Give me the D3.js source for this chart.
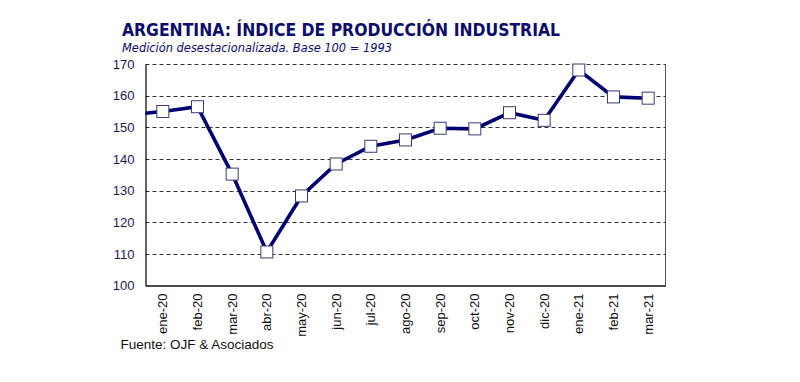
<!DOCTYPE html>
<html>
<head>
<meta charset="utf-8">
<script src="https://cdn.jsdelivr.net/npm/d3@7"></script>
<style>
  html, body { margin: 0; padding: 0; background: #ffffff; }
  svg { display: block; }
</style>
</head>
<body>
<svg id="chart" width="800" height="382"></svg>
<script>
// ---- data ----
const categories = ["ene-20","feb-20","mar-20","abr-20","may-20","jun-20","jul-20","ago-20","sep-20","oct-20","nov-20","dic-20","ene-21","feb-21","mar-21"];
const values = [155.0, 156.5, 135.2, 110.6, 128.3, 138.4, 144.0, 146.0, 149.7, 149.5, 154.6, 152.2, 168.1, 159.6, 159.2];
const priorValue = 153.9; // dic-19, partially visible at left edge
const yTicks = [100, 110, 120, 130, 140, 150, 160, 170];
const title = "ARGENTINA: ÍNDICE DE PRODUCCIÓN INDUSTRIAL";
const subtitle = "Medición desestacionalizada. Base 100 = 1993";
const source = "Fuente: OJF & Asociados";

// ---- layout ----
const svg = d3.select("#chart");
const plot = { left: 145.5, right: 665.5, top: 64, bottom: 285.5 };
const navy = "#0c0c6a";

const x = d3.scaleBand().domain(categories).range([plot.left, plot.right]).paddingInner(0).paddingOuter(0);
const y = d3.scaleLinear().domain([100, 170]).range([plot.bottom, plot.top]);
const cx = c => x(c) + x.bandwidth() / 2;

// titles
svg.append("text")
  .attr("x", 122).attr("y", 35.5)
  .attr("font-family", "DejaVu Sans, Verdana, sans-serif")
  .attr("font-weight", "bold").attr("font-size", 18)
  .attr("fill", navy)
  .attr("textLength", 438).attr("lengthAdjust", "spacingAndGlyphs")
  .text(title);
svg.append("text")
  .attr("x", 122).attr("y", 52)
  .attr("font-family", "DejaVu Sans, Verdana, sans-serif")
  .attr("font-style", "italic").attr("font-size", 12)
  .attr("fill", navy)
  .attr("textLength", 270).attr("lengthAdjust", "spacingAndGlyphs")
  .text(subtitle);

// gridlines
svg.append("g").selectAll("line")
  .data(yTicks.filter(t => t > 100))
  .join("line")
  .attr("x1", plot.left).attr("x2", plot.right)
  .attr("y1", d => Math.round(y(d)) + 0.5).attr("y2", d => Math.round(y(d)) + 0.5)
  .attr("stroke", "#333").attr("stroke-width", 1)
  .attr("stroke-dasharray", "4,3");

// right border
svg.append("line")
  .attr("x1", plot.right).attr("x2", plot.right)
  .attr("y1", plot.top).attr("y2", plot.bottom)
  .attr("stroke", "#555").attr("stroke-width", 1);

// y axis
const yAxis = svg.append("g")
  .attr("transform", `translate(${plot.left},0)`)
  .call(d3.axisLeft(y).tickValues(yTicks).tickSize(0).tickPadding(11).tickFormat(d3.format("d")));
yAxis.select(".domain").attr("stroke", "#111").attr("stroke-width", 1.3);
yAxis.selectAll("text")
  .attr("font-family", "Liberation Sans, Arial, sans-serif")
  .attr("font-size", 13).attr("fill", "#1a1a50");

// x axis
const xAxis = svg.append("g")
  .attr("transform", `translate(0,${plot.bottom})`)
  .call(d3.axisBottom(x).tickSize(0).tickPadding(0));
xAxis.select(".domain").attr("stroke", "#111").attr("stroke-width", 1.3);
xAxis.selectAll("text")
  .attr("font-family", "Liberation Sans, Arial, sans-serif")
  .attr("font-size", 13).attr("fill", "#111")
  .attr("text-anchor", "end")
  .attr("transform", "translate(0,8) rotate(-90)")
  .attr("x", 0).attr("y", 0).attr("dy", "0.35em");

// clip
svg.append("clipPath").attr("id", "clip")
  .append("rect").attr("x", plot.left).attr("y", 0)
  .attr("width", plot.right - plot.left + 20).attr("height", 382);

// line
const pts = [{ x: cx(categories[0]) - x.bandwidth(), v: priorValue }]
  .concat(categories.map((c, i) => ({ x: cx(c), v: values[i] })));
svg.append("path")
  .attr("clip-path", "url(#clip)")
  .datum(pts)
  .attr("fill", "none")
  .attr("stroke", "#000070")
  .attr("stroke-width", 3.6)
  .attr("stroke-linejoin", "miter")
  .attr("d", d3.line().x(d => d.x).y(d => y(d.v)));

// markers
const ms = 12;
svg.append("g").selectAll("rect")
  .data(categories)
  .join("rect")
  .attr("x", (c) => cx(c) - ms / 2)
  .attr("y", (c, i) => y(values[i]) - ms / 2)
  .attr("width", ms).attr("height", ms)
  .attr("fill", "#ffffff")
  .attr("stroke", "#3a3a78").attr("stroke-width", 1);

// source
svg.append("text")
  .attr("x", 120.5).attr("y", 349)
  .attr("font-family", "Liberation Sans, Arial, sans-serif")
  .attr("font-size", 13.5).attr("fill", "#111")
  .text(source);
</script>
</body>
</html>
